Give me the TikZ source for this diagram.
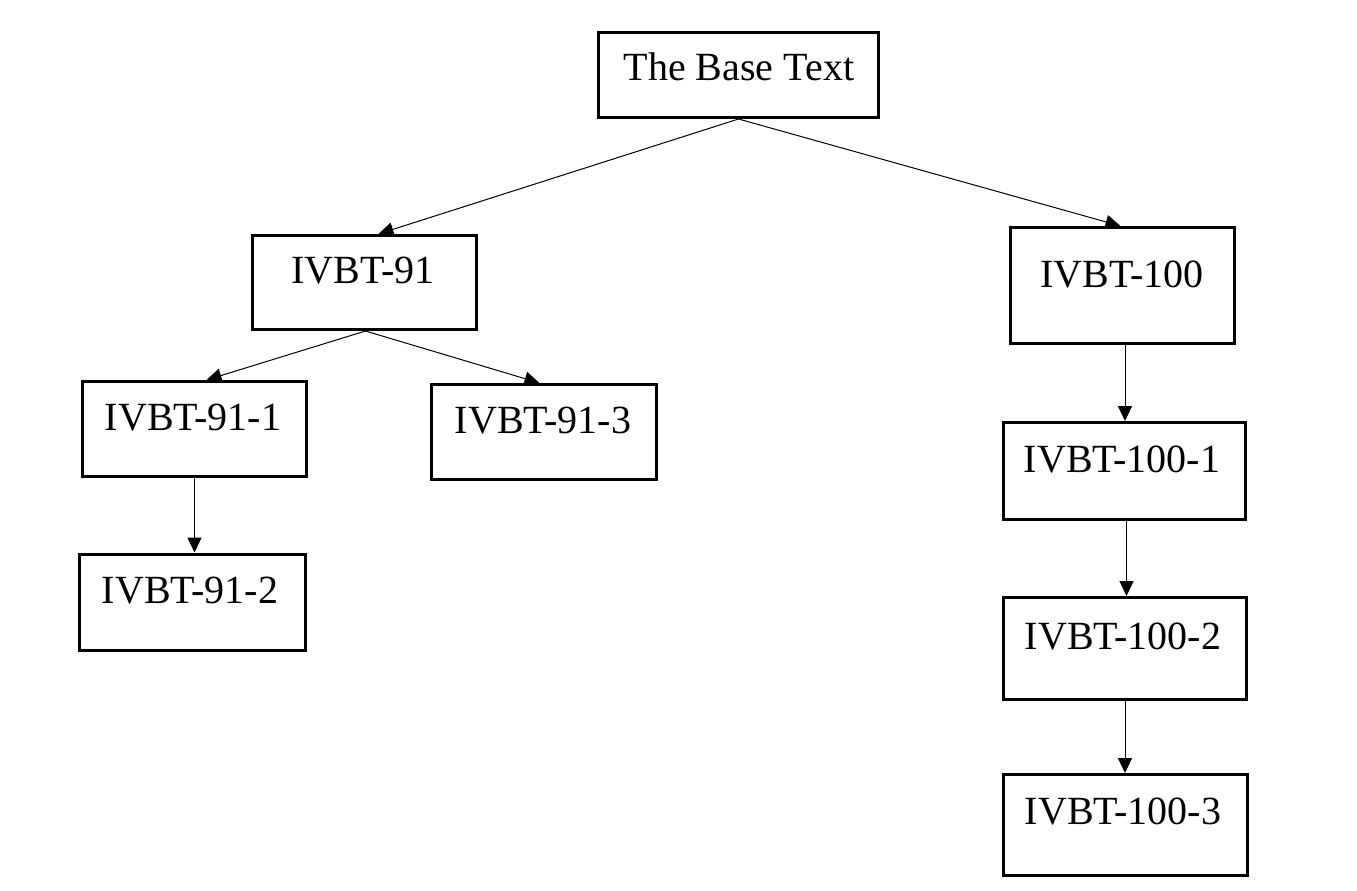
\documentclass[tikz,border=0pt]{standalone}
\usepackage{fontspec}
\setmainfont{Liberation Serif}
\usetikzlibrary{arrows.meta}
\begin{document}
\begin{tikzpicture}[x=1pt,y=-1pt,
  box/.style={draw=black,line width=3pt,inner sep=0pt,fill=white},
  lbl/.style={anchor=base,inner sep=0pt,font=\fontsize{40}{48}\selectfont},
  conn/.style={draw=black,line width=1pt,-{Triangle[length=15pt,width=14pt]}}]
\useasboundingbox[fill=white] (0,0) rectangle (1357,891);
% boxes
\node[box,minimum width=280pt,minimum height=85pt] (base) at (738.5,75) {};
\node[box,minimum width=224pt,minimum height=94pt] (n91) at (364.5,282.5) {};
\node[box,minimum width=224pt,minimum height=116pt] (n100) at (1122.5,285.5) {};
\node[box,minimum width=224pt,minimum height=95pt] (n911) at (194.5,429) {};
\node[box,minimum width=225pt,minimum height=95pt] (n913) at (543.5,432) {};
\node[box,minimum width=226pt,minimum height=96pt] (n912) at (192.5,602) {};
\node[box,minimum width=242pt,minimum height=97pt] (n1001) at (1124.5,471) {};
\node[box,minimum width=243pt,minimum height=102pt] (n1002) at (1125,648.5) {};
\node[box,minimum width=244pt,minimum height=101pt] (n1003) at (1125.5,825) {};
% labels
\node[lbl] (tbase) at (739,81) {The Base Text};
\node[lbl] (t91) at (363,283) {IVBT-91};
\node[lbl] (t100) at (1122,287) {IVBT-100};
\node[lbl] (t911) at (193,430) {IVBT-91-1};
\node[lbl] (t913) at (543,433) {IVBT-91-3};
\node[lbl] (t912) at (190,603) {IVBT-91-2};
\node[lbl] (t1001) at (1122,472) {IVBT-100-1};
\node[lbl] (t1002) at (1123,649) {IVBT-100-2};
\node[lbl] (t1003) at (1123,824) {IVBT-100-3};
% connectors
\draw[conn] (base.south) -- ([xshift=14pt]n91.north);
\draw[conn] (base.south) -- ([xshift=-2pt]n100.north);
\draw[conn] ([xshift=1pt]n91.south) -- ([xshift=12pt]n911.north);
\draw[conn] ([xshift=1pt]n91.south) -- ([xshift=-4pt]n913.north);
\draw[conn] (n911.south) -- (n911.south |- n912.north);
\draw[conn] ([xshift=2.5pt]n100.south) -- ([xshift=2.5pt]n100.south |- n1001.north);
\draw[conn] ([xshift=2pt]n1001.south) -- ([xshift=2pt]n1001.south |- n1002.north);
\draw[conn] (n1002.south) -- (n1002.south |- n1003.north);
\end{tikzpicture}
\end{document}
